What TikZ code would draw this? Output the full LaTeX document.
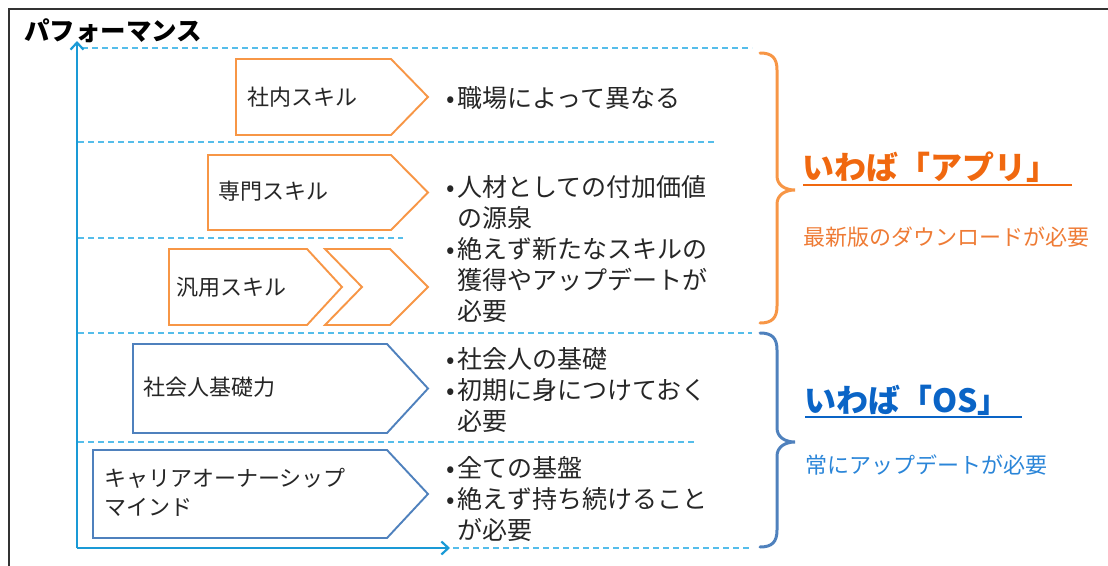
\documentclass[tikz,border=0pt]{standalone}
\usepackage{fontspec}
\setmainfont{Noto Sans CJK JP}
\usetikzlibrary{arrows.meta}
\definecolor{orgline}{HTML}{F79646}
\definecolor{bluline}{HTML}{4F81BD}
\definecolor{axisblue}{HTML}{1A9AD6}
\definecolor{dashblue}{HTML}{55BDEA}
\definecolor{orghead}{HTML}{F0680F}
\definecolor{orgsub}{HTML}{EE7B35}
\definecolor{bluhead}{HTML}{0A64C6}
\definecolor{blusub}{HTML}{2A85D8}
\definecolor{txt}{HTML}{262626}
\definecolor{framegray}{HTML}{333333}
\newcommand\bul{\makebox[11pt][l]{•}}
\newcommand\ind{\hspace*{11pt}}
\tikzset{
  orgshape/.style={draw=orgline, line width=1.9pt, line join=miter, fill=white},
  blushape/.style={draw=bluline, line width=1.9pt, line join=miter, fill=white},
  axisline/.style={draw=axisblue, line width=2.8pt, -{Straight Barb[length=7pt,width=13pt,line width=2.2pt]}},
  guide/.style={draw=dashblue, line width=1.5pt, dash pattern=on 6pt off 4pt},
  shapetext/.style={anchor=west, inner sep=0pt, text=txt, font=\fontsize{22}{29}\selectfont, align=left},
  bullettext/.style={anchor=west, inner sep=0pt, text=txt, font=\fontsize{25}{31}\selectfont},
  orgbrace/.style={draw=orgline, line width=3pt, line cap=round},
  blubrace/.style={draw=bluline, line width=3pt, line cap=round},
}
\begin{document}
\begin{tikzpicture}[x=1pt,y=-1pt]
\useasboundingbox (0,0) rectangle (1108,565);
% frame
\draw[framegray, line width=2pt] (8.5,566) -- (8.5,8.5) -- (1109,8.5);
% title
\node[anchor=west, inner sep=0pt, font=\bfseries\fontsize{25.5}{25.5}\selectfont] (title) at (24,31) {パフォーマンス};
% guide lines
\coordinate (g1a) at (82,48);  \coordinate (g1b) at (752,48);
\coordinate (g2a) at (78,142); \coordinate (g2b) at (714,142);
\coordinate (g3a) at (78,238); \coordinate (g3b) at (403,238);
\coordinate (g4a) at (78,333); \coordinate (g4b) at (752,333);
\coordinate (g5a) at (78,442); \coordinate (g5b) at (695,442);
\coordinate (g6a) at (453,548); \coordinate (g6b) at (752,548);
\foreach \a/\b in {g1a/g1b,g2a/g2b,g3a/g3b,g4a/g4b,g5a/g5b,g6a/g6b} \draw[guide] (\a) -- (\b);
% axes
\coordinate (O) at (77,548);
\coordinate (ytop) at (77,41);
\coordinate (xend) at (450,548);
\draw[axisline] (O) -- (ytop);
\draw[axisline] (O) -- (xend);
% shapes
\draw[orgshape] (236,59) -- (391,59) -- (428,97) -- (391,135) -- (236,135) -- cycle;
\draw[orgshape] (208,155) -- (391,155) -- (428,192.5) -- (391,230) -- (208,230) -- cycle;
\draw[orgshape] (169,249) -- (307,249) -- (342,287) -- (307,325) -- (169,325) -- cycle;
\draw[orgshape] (325,249) -- (390,249) -- (428,287) -- (390,325) -- (325,325) -- (362,287) -- cycle;
\draw[blushape] (133,344) -- (387,344) -- (428,388.5) -- (387,433) -- (133,433) -- cycle;
\draw[blushape] (93,450) -- (387,450) -- (428,494) -- (387,538) -- (93,538) -- cycle;
% shape texts
\node[shapetext] (s1) at (247,97) {社内スキル};
\node[shapetext] (s2) at (218,191) {専門スキル};
\node[shapetext] (s3) at (176,287) {汎用スキル};
\node[shapetext] (s4) at (143,387) {社会人基礎力};
\node[shapetext] (s5) at (104,492) {キャリアオーナーシップ\\マインド};
% bullet texts
\node[bullettext] (b1) at (446,101) {\begin{tabular}{@{}l@{}}\bul 職場によって異なる\end{tabular}};
\node[bullettext] (b2) at (446,252) {\begin{tabular}{@{}l@{}}\bul 人材としての付加価値\\\ind の源泉\\\bul 絶えず新たなスキルの\\\ind 獲得やアップデートが\\\ind 必要\end{tabular}};
\node[bullettext] (b3) at (446,393) {\begin{tabular}{@{}l@{}}\bul 社会人の基礎\\\bul 初期に身につけておく\\\ind 必要\end{tabular}};
\node[bullettext] (b4) at (446,502) {\begin{tabular}{@{}l@{}}\bul 全ての基盤\\\bul 絶えず持ち続けること\\\ind が必要\end{tabular}};
% braces
\draw[orgbrace] (760,53) .. controls (772,53) and (777,58) .. (777,70) -- (777,176)
  .. controls (777,185) and (785,190) .. (795,190)
  .. controls (785,190) and (777,195) .. (777,204) -- (777,306)
  .. controls (777,318) and (772,323) .. (760,323);
\draw[blubrace] (760,333) .. controls (772,333) and (777,338) .. (777,350) -- (777,428)
  .. controls (777,437) and (785,442) .. (795,442)
  .. controls (785,442) and (777,447) .. (777,456) -- (777,530)
  .. controls (777,542) and (772,547) .. (760,547);
% right labels
\node[anchor=west, inner sep=0pt, text=orghead, font=\bfseries\fontsize{32}{32}\selectfont] (app) at (802,167) {いわば「アプリ」};
\draw[orghead, line width=2pt] (803,184.5) -- (1072,184.5);
\node[anchor=west, inner sep=0pt, text=orgsub, font=\fontsize{22}{22}\selectfont] (appsub) at (803,237) {最新版のダウンロードが必要};
\node[anchor=west, inner sep=0pt, text=bluhead, font=\bfseries\fontsize{32}{32}\selectfont] (os) at (804,400) {いわば「OS」};
\draw[bluhead, line width=2pt] (805,417) -- (1022,417);
\node[anchor=west, inner sep=0pt, text=blusub, font=\fontsize{22}{22}\selectfont] (ossub) at (805,465) {常にアップデートが必要};
\end{tikzpicture}
\end{document}
